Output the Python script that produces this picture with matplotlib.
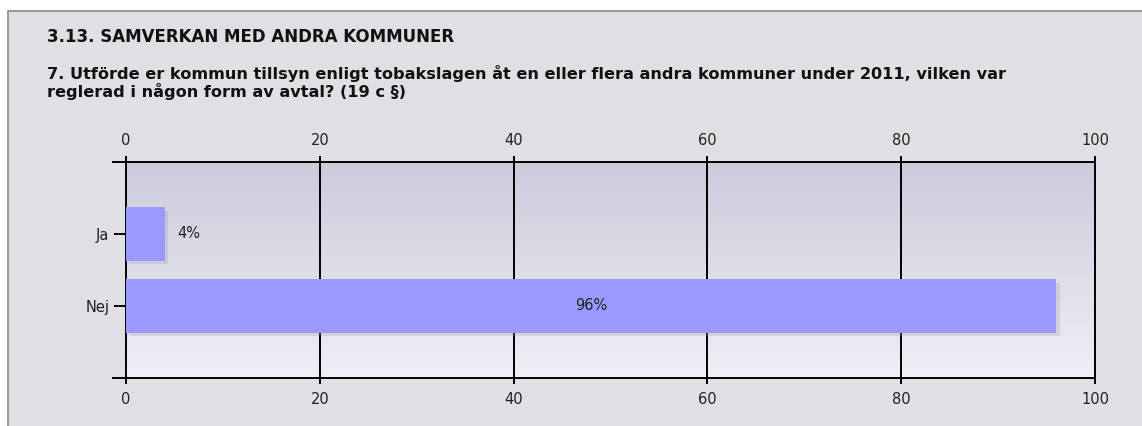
import matplotlib.pyplot as plt
import matplotlib.patheffects as pe
from matplotlib.patches import Rectangle
from matplotlib.colors import LinearSegmentedColormap
import numpy as np

categories = ['Ja', 'Nej']
values = [4, 96]
value_labels = ['4%', '96%']
xticks = [0, 20, 40, 60, 80, 100]

section_title = '3.13. SAMVERKAN MED ANDRA KOMMUNER'
question_lines = ['7. Utförde er kommun tillsyn enligt tobakslagen åt en eller flera andra kommuner under 2011, vilken var',
                  'reglerad i någon form av avtal? (19 c §)']

W, H = 1142, 426
fig = plt.figure(figsize=(W / 100, H / 100), dpi=100)
fig.patch.set_facecolor('white')

# grey panel behind everything
fig.patches.append(Rectangle((8 / W, -0.1), 1.2, 1 - 11 / H + 0.1, transform=fig.transFigure,
                             facecolor='#e0dfe3', edgecolor='#8a8a8a', lw=1.2, zorder=-5))

fig.text(47 / W, 1 - 37 / H, section_title, fontsize=12, fontweight='bold', color='#111111',
         va='center', ha='left')
for k, line in enumerate(question_lines):
    fig.text(47 / W, 1 - (73.5 + 18 * k) / H, line, fontsize=11.6, fontweight='bold', color='#111111',
             va='center', ha='left')

ax = fig.add_axes([126 / W, 1 - 378 / H, (1095 - 126) / W, (378 - 162) / H])
ax.set_facecolor('none')

# vertical gradient background
grad = np.linspace(0, 1, 256).reshape(-1, 1)
cmap = LinearSegmentedColormap.from_list('bg', ['#cbcbdb', '#efeff7'])
ax.imshow(grad, aspect='auto', cmap=cmap, extent=[0, 100, 2, -1], zorder=0)

y = np.arange(len(categories))
ax.barh(y, values, height=0.74, color='#9999ff', zorder=3,
        path_effects=[pe.SimplePatchShadow(offset=(2.5, -2.5), shadow_rgbFace='#999999', alpha=0.25),
                      pe.Normal()])

for g in xticks[1:-1]:
    ax.axvline(g, color='black', lw=1.4, zorder=1)

for i, (v, lab) in enumerate(zip(values, value_labels)):
    if v < 50:
        ax.text(v + 1.3, i, lab, va='center', ha='left', fontsize=10.5, color='#222222', zorder=4)
    else:
        ax.text(v / 2, i, lab, va='center', ha='center', fontsize=10.5, color='#222222', zorder=4)

ax.set_xlim(0, 100)
ax.set_ylim(2, -1)
ax.set_yticks(y)
ax.set_yticklabels(categories, fontsize=10.5, color='#222222')
ax.set_xticks(xticks)
ax.tick_params(axis='x', which='both', top=True, labeltop=True, bottom=True, labelbottom=True,
               length=4, width=1.4, direction='out', pad=6, labelsize=10.5, labelcolor='#222222')
ax.tick_params(axis='y', length=9, width=1.4, direction='out', pad=3)
for s in ax.spines.values():
    s.set_color('black')
    s.set_linewidth(1.4)

# horizontal axis lines continue a little to the left of the plot
ext = 13 / (1095 - 126)
for yy in (0, 1):
    ax.plot([-ext, 0], [yy, yy], transform=ax.transAxes, color='black', lw=1.4, clip_on=False)

fig.savefig('out.png', dpi=100)
